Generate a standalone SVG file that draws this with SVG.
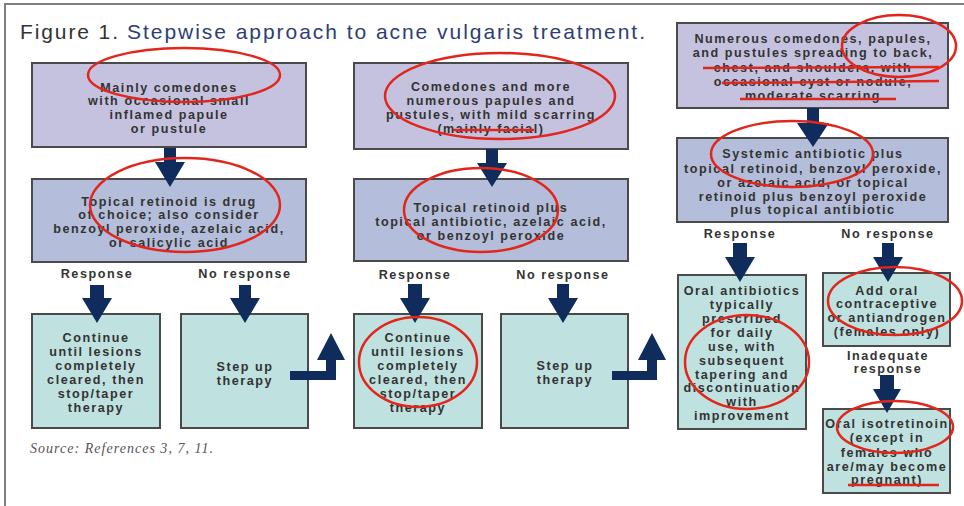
<svg xmlns="http://www.w3.org/2000/svg" width="964" height="506" viewBox="0 0 964 506">
<style>
.bg{fill:#ffffff}
.frame{fill:none;stroke:#808080;stroke-width:2}
.b1{fill:#c5c2df;stroke:#4a4a4a;stroke-width:2}
.b2{fill:#b4bdd9;stroke:#4a4a4a;stroke-width:2}
.b3{fill:#bfe1df;stroke:#4a4a4a;stroke-width:2}
.t{font-family:"Liberation Sans",Arial,Helvetica,sans-serif;font-weight:bold;font-size:12.6px;letter-spacing:1.55px;fill:#333333;text-anchor:middle}
.arr{fill:#102c5c}
.r{fill:none;stroke:#e3261c;stroke-width:2.5}
.title{font-family:"Liberation Sans",Arial,Helvetica,sans-serif;font-size:21px}
.src{font-family:"Liberation Serif","Times New Roman",serif;font-style:italic;font-size:14px;fill:#555555}
</style>
<rect class="bg" x="0" y="0" width="964" height="506"/>
<path class="frame" d="M5 506 V4 H964"/>
<text class="title" x="20" y="39" fill="#333333" textLength="98" lengthAdjust="spacing">Figure 1.</text>
<text class="title" x="127" y="39" fill="#2d3e73" textLength="518" lengthAdjust="spacing">Stepwise approach to acne vulgaris treatment.</text>

<g id="a1">
<rect class="b1" x="32" y="63" width="274" height="84"/>
<text class="t" x="169" y="92">Mainly comedones</text>
<text class="t" x="169" y="105">with occasional small</text>
<text class="t" x="169" y="119">inflamed papule</text>
<text class="t" x="169" y="133">or pustule</text>
</g>
<g id="b1">
<rect class="b2" x="32" y="179" width="274" height="83"/>
<text class="t" x="169" y="206">Topical retinoid is drug</text>
<text class="t" x="169" y="219">of choice; also consider</text>
<text class="t" x="169" y="233">benzoyl peroxide, azelaic acid,</text>
<text class="t" x="169" y="247">or salicylic acid</text>
</g>
<g id="c1">
<rect class="b3" x="32" y="314" width="128" height="114"/>
<text class="t" x="96" y="342">Continue</text>
<text class="t" x="96" y="356">until lesions</text>
<text class="t" x="96" y="370">completely</text>
<text class="t" x="96" y="384">cleared, then</text>
<text class="t" x="96" y="398">stop/taper</text>
<text class="t" x="96" y="412">therapy</text>
</g>
<g id="d1">
<rect class="b3" x="181" y="314" width="127" height="114"/>
<text class="t" x="245" y="371">Step up</text>
<text class="t" x="245" y="385">therapy</text>
</g>

<g id="a2">
<rect class="b1" x="354" y="63" width="274" height="86"/>
<text class="t" x="491" y="91">Comedones and more</text>
<text class="t" x="491" y="105">numerous papules and</text>
<text class="t" x="491" y="119">pustules, with mild scarring</text>
<text class="t" x="491" y="133">(mainly facial)</text>
</g>
<g id="b2">
<rect class="b2" x="354" y="179" width="274" height="82"/>
<text class="t" x="491" y="212">Topical retinoid plus</text>
<text class="t" x="491" y="226">topical antibiotic, azelaic acid,</text>
<text class="t" x="491" y="240">or benzoyl peroxide</text>
</g>
<g id="c2">
<rect class="b3" x="354" y="314" width="128" height="114"/>
<text class="t" x="418" y="342">Continue</text>
<text class="t" x="418" y="356">until lesions</text>
<text class="t" x="418" y="370">completely</text>
<text class="t" x="418" y="384">cleared, then</text>
<text class="t" x="418" y="398">stop/taper</text>
<text class="t" x="418" y="412">therapy</text>
</g>
<g id="d2">
<rect class="b3" x="501" y="314" width="127" height="114"/>
<text class="t" x="565" y="370">Step up</text>
<text class="t" x="565" y="384">therapy</text>
</g>

<g id="a3">
<rect class="b1" x="677" y="23" width="271" height="85"/>
<text class="t" x="813" y="43">Numerous comedones, papules,</text>
<text class="t" x="813" y="57">and pustules spreading to back,</text>
<text class="t" x="813" y="72">chest, and shoulders, with</text>
<text class="t" x="813" y="86">occasional cyst or nodule,</text>
<text class="t" x="813" y="100">moderate scarring</text>
</g>
<g id="b3">
<rect class="b2" x="677" y="138" width="271" height="84"/>
<text class="t" x="813" y="158">Systemic antibiotic plus</text>
<text class="t" x="813" y="173">topical retinoid, benzoyl peroxide,</text>
<text class="t" x="813" y="187">or azelaic acid, or topical</text>
<text class="t" x="813" y="201">retinoid plus benzoyl peroxide</text>
<text class="t" x="813" y="214">plus topical antibiotic</text>
</g>
<g id="c3">
<rect class="b3" x="678" y="275" width="128" height="154"/>
<text class="t" x="742" y="295">Oral antibiotics</text>
<text class="t" x="742" y="309">typically</text>
<text class="t" x="742" y="323">prescribed</text>
<text class="t" x="742" y="337">for daily</text>
<text class="t" x="742" y="351">use, with</text>
<text class="t" x="742" y="365">subsequent</text>
<text class="t" x="742" y="379">tapering and</text>
<text class="t" x="742" y="392">discontinuation</text>
<text class="t" x="742" y="406">with</text>
<text class="t" x="742" y="420">improvement</text>
</g>
<g id="d3">
<rect class="b3" x="823" y="273" width="127" height="73"/>
<text class="t" x="887" y="295">Add oral</text>
<text class="t" x="887" y="308">contraceptive</text>
<text class="t" x="887" y="322">or antiandrogen</text>
<text class="t" x="887" y="336">(females only)</text>
</g>
<g id="e3">
<rect class="b3" x="823" y="409" width="127" height="84"/>
<text class="t" x="887" y="428">Oral isotretinoin</text>
<text class="t" x="887" y="442">(except in</text>
<text class="t" x="887" y="457">females who</text>
<text class="t" x="887" y="471">are/may become</text>
<text class="t" x="887" y="484">pregnant)</text>
</g>

<g id="connectors">
<path class="arr" d="M164 148 H176 V162 H185 L170 187 L155 162 H164 Z"/>
<path class="arr" d="M486 149 H498 V163 H507 L492 187 L477 163 H486 Z"/>
<path class="arr" d="M807 108 H819 V123 H829 L813 147 L797 123 H807 Z"/>
<path class="arr" d="M90 285 H104 V298 H112 L97 323 L82 298 H90 Z"/>
<path class="arr" d="M239 285 H251 V298 H260 L245 323 L230 298 H239 Z"/>
<path class="arr" d="M408 284 H422 V298 H430 L415 323 L400 298 H408 Z"/>
<path class="arr" d="M557 284 H569 V298 H578 L563 323 L548 298 H557 Z"/>
<path class="arr" d="M733 243 H747 V257 H755 L740 282 L725 257 H733 Z"/>
<path class="arr" d="M882 243 H894 V257 H903 L888 282 L873 257 H882 Z"/>
<path class="arr" d="M880 375 H894 V389 H901 L887 413 L873 389 H880 Z"/>
<path class="arr" d="M290 371 H326 V360 H317 L331 333 L345 360 H336 V380 H290 Z"/>
<path class="arr" d="M612 371 H647 V360 H638 L652 333 L666 360 H657 V380 H612 Z"/>
</g>

<g id="labels">
<text class="t" x="97" y="278">Response</text>
<text class="t" x="245" y="278">No response</text>
<text class="t" x="415" y="279">Response</text>
<text class="t" x="563" y="279">No response</text>
<text class="t" x="740" y="238">Response</text>
<text class="t" x="888" y="238">No response</text>
<text class="t" x="888" y="360">Inadequate</text>
<text class="t" x="888" y="373">response</text>
</g>

<text class="src" x="30" y="453" textLength="183" lengthAdjust="spacing">Source: References 3, 7, 11.</text>

<g id="annotations">
<ellipse class="r" cx="184" cy="75" rx="96" ry="27"/>
<ellipse class="r" cx="185" cy="205" rx="95" ry="47"/>
<ellipse class="r" cx="500" cy="96" rx="115" ry="43"/>
<line class="r" x1="453" y1="130" x2="534" y2="130"/>
<ellipse class="r" cx="481" cy="210" rx="77" ry="42"/>
<ellipse class="r" cx="418" cy="362" rx="59" ry="45"/>
<ellipse class="r" cx="899" cy="46" rx="57" ry="31"/>
<line class="r" x1="703" y1="68" x2="939" y2="67"/>
<line class="r" x1="722" y1="83" x2="939" y2="81"/>
<line class="r" x1="740" y1="99" x2="896" y2="99"/>
<ellipse class="r" cx="792" cy="154" rx="81" ry="33"/>
<ellipse class="r" cx="747" cy="362" rx="62" ry="47"/>
<ellipse class="r" cx="895" cy="301" rx="67" ry="34"/>
<ellipse class="r" cx="895" cy="427" rx="58" ry="26"/>
<line class="r" x1="848" y1="485" x2="939" y2="485"/>
</g>
</svg>
